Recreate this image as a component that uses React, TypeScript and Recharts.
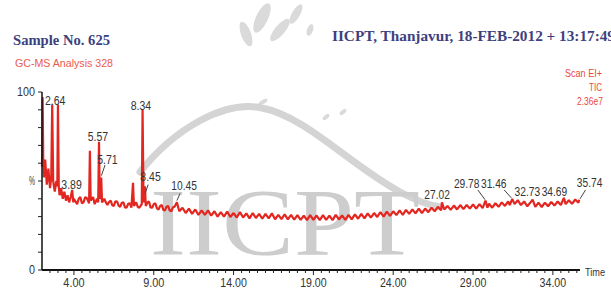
import React from "react";
import {
  ComposedChart,
  Line,
  XAxis,
  YAxis,
  ReferenceDot,
  ReferenceLine,
} from "recharts";

// Retention time (min) / relative intensity (%)
const tic: [number, number][] = [
  [2.0, 58], [2.04, 97], [2.08, 60], [2.12, 52], [2.2, 62], [2.3, 48], [2.4, 57], [2.5, 46],
  [2.58, 52], [2.64, 93], [2.7, 50], [2.8, 44], [2.9, 50], [2.96, 47], [3.0, 93], [3.05, 47],
  [3.1, 42], [3.2, 46], [3.3, 40], [3.4, 44], [3.5, 39], [3.6, 42], [3.7, 38], [3.8, 41],
  [3.89, 45], [3.96, 38], [4.0, 40], [4.1, 38.5], [4.2, 37], [4.3, 40], [4.4, 41], [4.5, 37.5], [4.6, 38], [4.7, 40.8], [4.8, 40.5], [4.95, 37.5],
  [5.0, 67], [5.05, 39], [5.2, 41], [5.3, 37], [5.45, 40], [5.52, 38], [5.57, 72], [5.62, 40],
  [5.68, 41], [5.71, 52], [5.76, 38], [5.9, 40], [6.0, 38], [6.1, 36.5], [6.2, 38.2], [6.3, 39], [6.4, 36.4], [6.5, 36], [6.6, 38.6], [6.7, 38.5],
  [6.8, 36.2], [6.9, 35.5], [7.0, 37.8], [7.1, 38], [7.2, 35.2], [7.3, 35], [7.4, 37.2], [7.5, 37.5], [7.6, 35], [7.7, 49], [7.76, 36], [7.9, 38],
  [8.0, 35.4], [8.1, 35], [8.25, 37], [8.3, 90], [8.36, 38], [8.45, 47], [8.5, 36], [8.6, 37.8], [8.7, 38.5], [8.8, 35.2], [8.9, 35],
  [9.0, 37], [9.1, 37.5], [9.2, 34.6], [9.3, 34], [9.4, 36], [9.5, 36.5], [9.6, 33.8], [9.7, 33.5], [9.8, 35.6], [9.9, 36], [10.0, 33.4], [10.1, 33], [10.2, 35.2], [10.3, 35.5], [10.45, 38],
  [10.6, 33], [10.8, 35], [11.0, 32], [11.2, 34.5], [11.4, 31.5], [11.6, 34], [11.8, 31], [12.0, 33.5],
  [12.2, 31], [12.4, 33.5], [12.6, 30.5], [12.8, 33], [13.0, 30], [13.2, 32.5], [13.4, 30], [13.6, 32.8],
  [13.8, 29.8], [14.0, 32], [14.2, 29.5], [14.4, 32.5], [14.6, 29.5], [14.8, 31.8], [15.0, 29], [15.2, 32],
  [15.4, 29.2], [15.6, 31.5], [15.8, 28.8], [16.0, 31.5], [16.2, 29], [16.4, 31.8], [16.6, 28.5], [16.8, 31],
  [17.0, 28.6], [17.2, 31.2], [17.4, 28.5], [17.6, 31], [17.8, 28.3], [18.0, 30.8], [18.2, 28.2], [18.4, 30.5],
  [18.6, 28], [18.8, 30.8], [19.0, 28.2], [19.2, 30.6], [19.4, 28], [19.6, 30.8], [19.8, 28.2], [20.0, 30.5],
  [20.2, 28], [20.4, 31], [20.6, 28.4], [20.8, 30.6], [21.0, 28.2], [21.2, 31], [21.4, 28.5], [21.6, 31.2],
  [21.8, 28.8], [22.0, 31.5], [22.2, 29], [22.4, 31.8], [22.6, 29.4], [22.8, 32], [23.0, 29.8], [23.2, 32.5],
  [23.4, 30], [23.6, 32.8], [23.8, 30.4], [24.0, 33], [24.2, 30.8], [24.4, 33.5], [24.6, 31], [24.8, 33.8],
  [25.0, 31.5], [25.2, 34], [25.4, 31.8], [25.6, 34.5], [25.8, 32], [26.0, 34.5], [26.2, 32.5], [26.4, 35],
  [26.6, 33], [26.8, 35.5], [27.0, 33.5], [27.05, 38], [27.2, 34], [27.4, 36], [27.6, 33.8], [27.8, 36.2],
  [28.0, 34], [28.2, 36.5], [28.4, 34.2], [28.6, 36.5], [28.8, 34.5], [29.0, 36.8], [29.2, 34.5], [29.4, 37],
  [29.6, 34.8], [29.78, 39], [29.9, 35], [30.0, 37.2], [30.2, 35], [30.4, 37.5], [30.6, 35.5], [30.8, 38],
  [31.0, 36], [31.2, 38.5], [31.3, 36.5], [31.46, 40], [31.6, 37], [31.8, 39.2], [32.0, 36.5], [32.2, 38.5],
  [32.4, 35.8], [32.6, 38], [32.73, 39.5], [32.9, 35.5], [33.1, 37.8], [33.3, 35.4], [33.5, 37.8], [33.7, 35.8],
  [33.9, 38.2], [34.1, 36.2], [34.3, 38.5], [34.5, 36.5], [34.69, 40.5], [34.8, 37], [35.0, 39.2], [35.2, 37.2],
  [35.4, 39.6], [35.6, 37.8], [35.65, 39.5],
];

// Peak annotations: label text, label centre time, label height (%), leader line or null
const peakLabels: { text: string; t: number; p: number; leader: [number, number, number, number] | null }[] = [
  { text: "2.64", t: 2.82, p: 95, leader: null },
  { text: "3.89", t: 3.85, p: 48, leader: null },
  { text: "5.57", t: 5.5, p: 75, leader: null },
  { text: "5.71", t: 6.1, p: 62, leader: [5.95, 59, 5.72, 53] },
  { text: "8.34", t: 8.2, p: 92, leader: null },
  { text: "8.45", t: 8.8, p: 52, leader: [8.65, 48, 8.46, 43] },
  { text: "10.45", t: 10.9, p: 47, leader: [10.65, 43, 10.45, 39] },
  { text: "27.02", t: 26.75, p: 42, leader: null },
  { text: "29.78", t: 28.6, p: 48.5, leader: [29.3, 45, 29.75, 39.5] },
  { text: "31.46", t: 30.3, p: 48.5, leader: [30.95, 45, 31.4, 40.5] },
  { text: "32.73", t: 32.4, p: 44, leader: null },
  { text: "34.69", t: 34.1, p: 44, leader: null },
  { text: "35.74", t: 36.3, p: 49, leader: [36.05, 45, 35.7, 40] },
];

const xMajor = [4, 9, 14, 19, 24, 29, 34];
const yTickLabels: Record<number, string> = { 0: "0", 50: "%", 100: "100" };

const data = tic.map(([t, v]) => ({ t, v }));
const xTicks: number[] = [];
for (let k = 5; k <= 71; k++) xTicks.push(k / 2);
const yTicks = [0, 10, 20, 30, 40, 50, 60, 70, 80, 90, 100];

const LABEL_FONT = "'Liberation Sans', Arial, sans-serif";

const XTick = (props: any) => {
  const { x, y, payload } = props;
  const major = xMajor.includes(payload.value);
  const s = major ? payload.value.toFixed(2) : "";
  return (
    <g>
      <line x1={x} x2={x} y1={y} y2={y + (major ? 5 : 3)} stroke="#222" strokeWidth={1} />
      {major && (
        <text x={x} y={y + 17} textAnchor="middle" fontSize={12} fill="#333" fontFamily={LABEL_FONT}
          textLength={s.length * 5.3} lengthAdjust="spacingAndGlyphs">
          {s}
        </text>
      )}
    </g>
  );
};

const YTick = (props: any) => {
  const { x, y, payload } = props;
  const lab = yTickLabels[payload.value];
  return (
    <g>
      {lab && (
        <text x={x - 1} y={y + 4} textAnchor="end" fontSize={12} fill="#333" fontFamily={LABEL_FONT}
          textLength={lab.length * 6} lengthAdjust="spacingAndGlyphs">
          {lab}
        </text>
      )}
    </g>
  );
};

export default function App() {
  return (
    <div style={{ position: "absolute", left: 0, top: 0, width: 611, height: 293, background: "#fff", overflow: "hidden" }}>
      {/* watermark */}
      <svg width={611} height={293} style={{ position: "absolute", left: 0, top: 0 }}>
        <g fill="#d6d6d6" opacity={0.9}>
          <ellipse cx={262} cy={18} rx={6} ry={16} transform="rotate(25 262 18)" />
          <ellipse cx={280} cy={30} rx={5} ry={14} transform="rotate(40 280 30)" />
          <ellipse cx={246} cy={34} rx={5} ry={13} transform="rotate(-20 246 34)" />
          <ellipse cx={296} cy={14} rx={4} ry={11} transform="rotate(30 296 14)" />
          <ellipse cx={263} cy={102} rx={5} ry={2} transform="rotate(-30 263 102)" />
          <ellipse cx={326} cy={117} rx={4} ry={2} transform="rotate(-40 326 117)" />
          <ellipse cx={343} cy={112} rx={4} ry={2} transform="rotate(-40 343 112)" />
          <ellipse cx={310} cy={30} rx={3} ry={6} transform="rotate(20 310 30)" />
        </g>
        <path d="M 140 172 C 175 128, 225 100, 262 108 C 305 116, 350 165, 400 192 C 415 200, 428 205, 440 207"
          fill="none" stroke="#d4d4d4" strokeWidth={7} strokeLinecap="round" />
        <text x={150} y={255} fontSize={96} fill="#cdcdcd" fontFamily="'Liberation Serif', 'DejaVu Serif', serif"
          textLength={270} lengthAdjust="spacingAndGlyphs">IICPT</text>
      </svg>
      <div style={{ position: "absolute", left: 0, top: 0 }}>
        <ComposedChart width={611} height={293} data={data} margin={{ top: 92, right: 31, bottom: 0, left: 0 }}>
          <XAxis
            dataKey="t"
            type="number"
            domain={[2, 35.7]}
            ticks={xTicks}
            interval={0}
            tick={<XTick />}
            tickLine={false}
            tickSize={0}
            tickMargin={0}
            height={23}
            axisLine={{ stroke: "#111", strokeWidth: 2 }}
          />
          <YAxis
            type="number"
            domain={[0, 100]}
            ticks={yTicks}
            interval={0}
            width={42}
            tick={<YTick />}
            tickSize={4}
            tickMargin={2}
            tickLine={{ stroke: "#222" }}
            axisLine={{ stroke: "#111", strokeWidth: 1.5 }}
          />
          <Line
            dataKey="v"
            type="linear"
            stroke="#e3261f"
            strokeWidth={2.2}
            strokeLinejoin="bevel"
            dot={false}
            isAnimationActive={false}
          />
          {peakLabels.filter((l) => l.leader).map((l) => (
            <ReferenceLine
              key={"ld" + l.text}
              segment={[{ x: l.leader![0], y: l.leader![1] }, { x: l.leader![2], y: l.leader![3] }]}
              stroke="#444"
              strokeWidth={1}
              ifOverflow="visible"
            />
          ))}
          {peakLabels.map((l) => (
            <ReferenceDot
              key={"lb" + l.text}
              x={l.t}
              y={l.p}
              ifOverflow="visible"
              shape={(p: any) => (
                <text x={p.cx} y={p.cy + 4} textAnchor="middle" fontSize={12} fill="#333" fontFamily={LABEL_FONT}
                  textLength={l.text.length * 5.1} lengthAdjust="spacingAndGlyphs">
                  {l.text}
                </text>
              )}
            />
          ))}
        </ComposedChart>
      </div>
      {/* header texts */}
      <svg width={611} height={293} style={{ position: "absolute", left: 0, top: 0, pointerEvents: "none" }}>
        <text x={13} y={45} fontSize={15} fontWeight="bold" fill="#3d3f7e" fontFamily="'Liberation Serif', serif"
          textLength={97} lengthAdjust="spacingAndGlyphs">Sample No. 625</text>
        <text x={332} y={41} fontSize={15} fontWeight="bold" fill="#3d3f7e" fontFamily="'Liberation Serif', serif"
          textLength={283} lengthAdjust="spacingAndGlyphs">IICPT, Thanjavur,  18-FEB-2012 + 13:17:49</text>
        <text x={15} y={67} fontSize={11.5} fill="#ea5a4e" fontFamily={LABEL_FONT}
          textLength={98} lengthAdjust="spacingAndGlyphs">GC-MS Analysis 328</text>
        <text x={602} y={77} fontSize={11} fill="#ea4a3e" textAnchor="end" fontFamily={LABEL_FONT}
          textLength={37} lengthAdjust="spacingAndGlyphs">Scan EI+</text>
        <text x={602} y={91} fontSize={11} fill="#ea4a3e" textAnchor="end" fontFamily={LABEL_FONT}
          textLength={13} lengthAdjust="spacingAndGlyphs">TIC</text>
        <text x={603} y={105} fontSize={11} fill="#ea4a3e" textAnchor="end" fontFamily={LABEL_FONT}
          textLength={26} lengthAdjust="spacingAndGlyphs">2.36e7</text>
        <text x={585} y={276} fontSize={11} fill="#333" fontFamily={LABEL_FONT}
          textLength={20} lengthAdjust="spacingAndGlyphs">Time</text>
      </svg>
    </div>
  );
}
